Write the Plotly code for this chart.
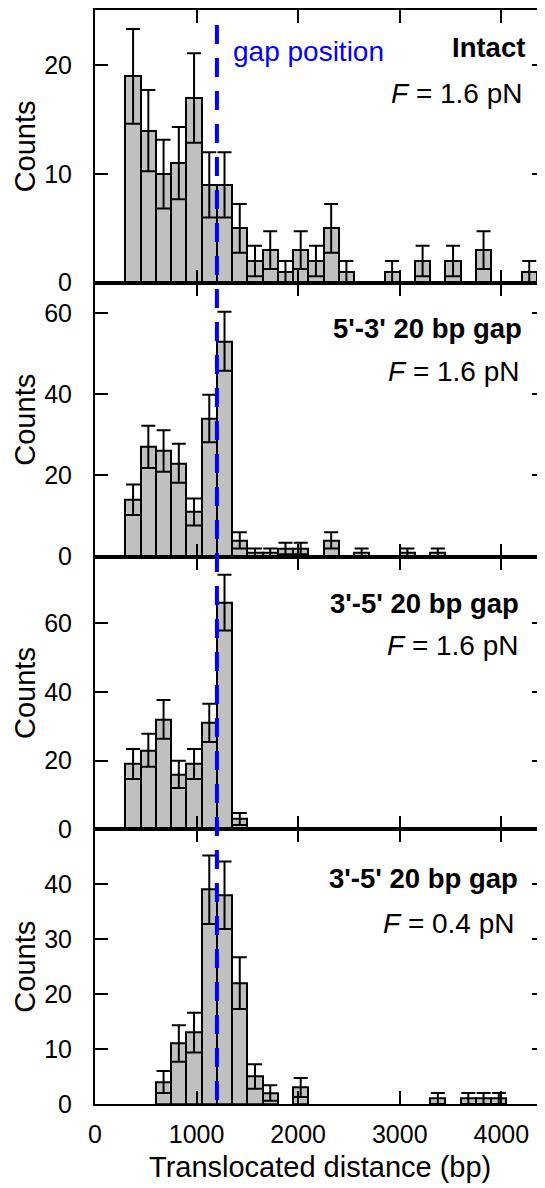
import plotly.graph_objects as go
from plotly.subplots import make_subplots

# ---------------- data ----------------
BIN_WIDTH = 150  # bp

# Panel 1: Intact, F = 1.6 pN
intact_left = [300, 450, 600, 750, 900, 1050, 1200, 1350, 1500, 1650, 1800, 1950,
               2100, 2250, 2400, 2850, 3150, 3450, 3750, 4200]
intact_counts = [19, 14, 10, 11, 17, 9, 9, 5, 2, 3, 1, 3, 2, 5, 1, 1, 2, 2, 3, 1]
intact_err = [4.36, 3.74, 3.16, 3.32, 4.12, 3.0, 3.0, 2.24, 1.41, 1.73, 1.0, 1.73,
              1.41, 2.24, 1.0, 1.0, 1.41, 1.41, 1.73, 1.0]

# Panel 2: 5'-3' 20 bp gap, F = 1.6 pN
gap53_left = [300, 450, 600, 750, 900, 1050, 1200, 1350, 1500, 1650, 1800, 1950,
              2250, 2550, 3000, 3300]
gap53_counts = [14, 27, 26, 23, 11, 34, 53, 4, 1, 1, 2, 2, 4, 1, 1, 1]
gap53_err = [3.74, 5.20, 5.10, 4.80, 3.32, 5.83, 7.28, 2.0, 1.0, 1.0, 1.41, 1.41,
             2.0, 1.0, 1.0, 1.0]

# Panel 3: 3'-5' 20 bp gap, F = 1.6 pN
gap35_left = [300, 450, 600, 750, 900, 1050, 1200, 1350]
gap35_counts = [19, 23, 32, 16, 19, 31, 66, 3]
gap35_err = [4.36, 4.80, 5.66, 4.0, 4.36, 5.57, 8.12, 1.73]

# Panel 4: 3'-5' 20 bp gap, F = 0.4 pN
gap35low_left = [600, 750, 900, 1050, 1200, 1350, 1500, 1650, 1950, 3300, 3600, 3750, 3900]
gap35low_counts = [4, 11, 13, 39, 38, 22, 5, 2, 3, 1, 1, 1, 1]
gap35low_err = [2.0, 3.32, 3.61, 6.24, 6.16, 4.69, 2.24, 1.41, 1.73, 1.0, 1.0, 1.0, 1.0]

panel_titles = ["Intact", "5'-3' 20 bp gap", "3'-5' 20 bp gap", "3'-5' 20 bp gap"]
panel_forces = ["1.6", "1.6", "1.6", "0.4"]
y_ranges = [[0, 25.1], [0, 67.4], [0, 79.4], [0, 50.0]]
y_ticks = [[0, 10, 20], [0, 20, 40, 60], [0, 20, 40, 60], [0, 10, 20, 30, 40]]
x_ticks = [0, 1000, 2000, 3000, 4000]
gap_position = 1200

panels = [
    (intact_left, intact_counts, intact_err),
    (gap53_left, gap53_counts, gap53_err),
    (gap35_left, gap35_counts, gap35_err),
    (gap35low_left, gap35low_counts, gap35low_err),
]

# ---------------- figure ----------------
FONT = "Arial, Liberation Sans, sans-serif"
OFF = 8                      # page body margin offset of the figure in the window
WIN_W, WIN_H = 545, 1188
W, H = WIN_W - OFF, WIN_H - OFF
# plot area in window pixels: left 95, right 545, top 10, bottom 1104
PL, PR, PT, PB = 95, 545, 10, 1104
ML, MR, MT, MB = PL - OFF, WIN_W - PR, PT - OFF, WIN_H - PB

fig = make_subplots(rows=4, cols=1, vertical_spacing=0)

plot_h = PB - PT
plot_w = PR - PL

def px_to_paper_y(py):
    return (PB - py) / plot_h

def px_to_paper_x(px):
    return (px - PL) / plot_w

panel_edges = [10, 282.7, 556.7, 829.3, 1104]
domains = [[px_to_paper_y(panel_edges[i + 1]), px_to_paper_y(panel_edges[i])] for i in range(4)]

for i, (left, counts, err) in enumerate(panels):
    centers = [l + BIN_WIDTH / 2 for l in left]
    fig.add_trace(
        go.Bar(
            x=centers, y=counts, width=BIN_WIDTH,
            marker=dict(color="#C0C0C0", line=dict(color="black", width=2)),
            error_y=dict(type="data", array=err, visible=True, color="black",
                         thickness=2, width=7),
            showlegend=False,
        ),
        row=i + 1, col=1,
    )

axis_common = dict(
    showline=True, linecolor="black", linewidth=2, mirror="allticks",
    ticks="inside", ticklen=13, tickwidth=2, tickcolor="black",
    showgrid=False, zeroline=False,
    tickfont=dict(family=FONT, size=25, color="black"),
)

for i in range(4):
    xa = "xaxis" if i == 0 else f"xaxis{i+1}"
    ya = "yaxis" if i == 0 else f"yaxis{i+1}"
    fig.layout[xa].update(
        range=[0, 4430], tickvals=x_ticks, ticktext=[str(v) for v in x_ticks],
        showticklabels=(i == 3), ticklabelstandoff=7, **axis_common
    )
    fig.layout[ya].update(
        range=y_ranges[i], domain=domains[i], tickvals=y_ticks[i],
        ticktext=[str(v) for v in y_ticks[i]], ticklabelstandoff=16, **axis_common
    )

annotations = []
title_pos = [(527, 48), (524, 328), (521, 603), (520, 878)]
force_pos = [(525, 93), (522, 372), (521, 645), (517, 923)]
for i in range(4):
    tx, ty = title_pos[i]
    fx, fy = force_pos[i]
    annotations.append(dict(
        text=f"<b>{panel_titles[i]}</b>", x=px_to_paper_x(tx), y=px_to_paper_y(ty),
        xref="paper", yref="paper", xanchor="right", yanchor="middle",
        showarrow=False, font=dict(family=FONT, size=27.5, color="black")))
    annotations.append(dict(
        text=f"<i>F</i> = {panel_forces[i]} pN", x=px_to_paper_x(fx), y=px_to_paper_y(fy),
        xref="paper", yref="paper", xanchor="right", yanchor="middle",
        showarrow=False, font=dict(family=FONT, size=28, color="black")))
    top, bottom = domains[i][1], domains[i][0]
    annotations.append(dict(
        text="Counts", x=px_to_paper_x(25), y=(top + bottom) / 2,
        xref="paper", yref="paper", xanchor="center", yanchor="middle",
        textangle=-90, showarrow=False,
        font=dict(family=FONT, size=29, color="black")))

annotations.append(dict(
    text="gap position", x=px_to_paper_x(231), y=px_to_paper_y(51),
    xref="paper", yref="paper", xanchor="left", yanchor="middle",
    showarrow=False, font=dict(family=FONT, size=28, color="#0000FF")))

annotations.append(dict(
    text="Translocated distance (bp)", x=0.5, y=px_to_paper_y(1167),
    xref="paper", yref="paper", xanchor="center", yanchor="middle",
    showarrow=False, font=dict(family=FONT, size=29, color="black")))

fig.add_shape(
    type="line", xref="x", yref="paper",
    x0=gap_position, x1=gap_position, y0=px_to_paper_y(25), y1=0,
    line=dict(color="#0000FF", width=4, dash="19px,14px"), layer="above",
)

fig.update_layout(
    width=W, height=H,
    margin=dict(l=ML, r=MR, t=MT, b=MB, autoexpand=False),
    paper_bgcolor="white", plot_bgcolor="white",
    annotations=annotations,
    bargap=0,
    font=dict(family=FONT, color="black"),
)

fig.write_html("out.html")
